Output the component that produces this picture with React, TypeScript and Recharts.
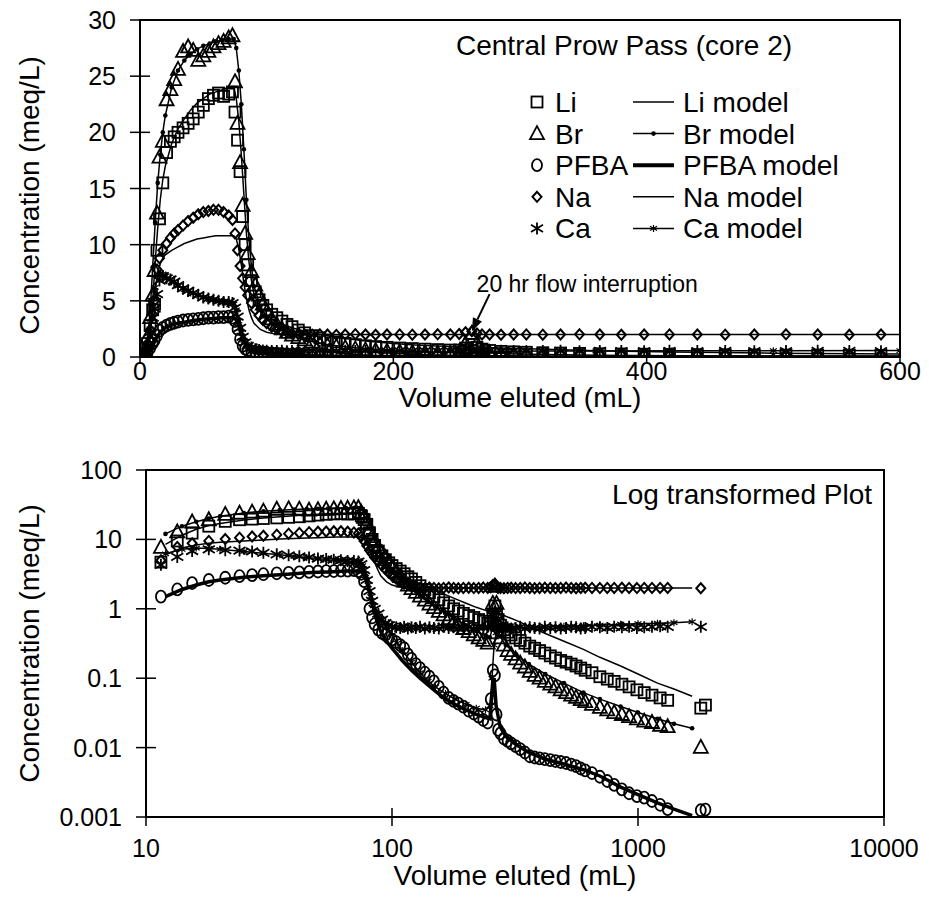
import React from 'react';
import { ScatterChart, Scatter, XAxis, YAxis, ReferenceArea, ReferenceLine, Legend } from 'recharts';

const FONT = '"Liberation Sans", Arial, Helvetica, sans-serif';

// measured effluent concentrations (meq/L) on a shared volume grid (mL)
const volume = [
  2, 4, 6, 8, 10, 11.5, 13.4, 15.4, 18, 21, 24, 27, 30, 34, 38, 42, 46, 50, 54, 58,
  62, 66, 70, 73, 75, 77, 79, 81, 83, 85, 88, 91, 94, 97, 100, 104, 108, 112, 116, 120,
  125, 130, 136, 142, 148, 155, 162, 170, 178, 186, 195, 205, 215, 225, 235, 245, 252, 257, 262, 266,
  270, 276, 285, 295, 305, 318, 332, 347, 363, 380, 398, 418, 440, 462, 485, 510, 535, 560, 585, 610,
  650, 700, 750, 800, 860, 920, 990, 1060, 1140, 1230, 1320, 1800, 1880,
];

const li = [
  0.05, 0.3, 1.2, 2.8, 4.2, 4.7, 9.5, 12.3, 15.5, 18.2, 19.2, 19.6, 20, 20.4, 20.8, 21.2, 21.8, 22.4, 23, 23.3,
  23.5, 23.2, 23.4, 23.6, 21.8, 19.3, 16.5, 12.5, 10, 8.2, 6.8, 5.8, 5.1, 4.6, 4.2, 3.8, 3.5, 3.2, 2.9, 2.7,
  2.4, 2.15, 1.9, 1.7, 1.5, 1.35, 1.22, 1.1, 1.0, 0.93, 0.86, 0.8, 0.75, 0.7, 0.66, 0.62, 0.62, 0.8, 1.1, 0.85,
  0.7, 0.58, 0.5, 0.46, 0.42, 0.38, 0.35, 0.32, 0.29, 0.27, 0.25, 0.23, 0.21, 0.195, 0.18, 0.17, 0.16, 0.15, 0.14, 0.13,
  0.12, 0.105, 0.097, 0.09, 0.082, 0.075, 0.068, 0.062, 0.057, 0.052, 0.048, 0.037, 0.041,
];

const br = [
  0.05, 0.5, 1.8, 3.5, 5.5, 7.7, 12.8, 17.8, 19.2, 22.9, 23.8, 24.7, 25.6, 27.2, 27.6, 27.3, 26.4, 26.8, 27.2, 27.6,
  27.9, 28.1, 28.4, 28.6, 24.5, 20.8, 17.3, 13.5, 11, 9.2, 7.6, 6.4, 5.5, 4.7, 4.0, 3.4, 2.9, 2.5, 2.2, 1.95,
  1.72, 1.52, 1.33, 1.17, 1.04, 0.92, 0.82, 0.72, 0.64, 0.58, 0.52, 0.47, 0.42, 0.38, 0.35, 0.32, 0.45, 1.2, 2.1, 1.2,
  0.6, 0.38, 0.3, 0.25, 0.22, 0.19, 0.165, 0.145, 0.125, 0.11, 0.1, 0.09, 0.082, 0.075, 0.068, 0.062, 0.057, 0.053, 0.049, 0.046,
  0.042, 0.038, 0.035, 0.032, 0.03, 0.028, 0.026, 0.024, 0.023, 0.021, 0.02, 0.0101, null,
];

const pfba = [
  0.02, 0.1, 0.4, 0.8, 1.2, 1.5, 1.9, 2.35, 2.6, 2.8, 2.95, 3.05, 3.15, 3.25, 3.3, 3.35, 3.4, 3.45, 3.5, 3.5,
  3.55, 3.55, 3.6, 3.5, 3.2, 2.5, 1.6, 1.0, 0.75, 0.6, 0.5, 0.45, 0.42, 0.38, 0.36, 0.33, 0.3, 0.27, 0.22, 0.19,
  0.16, 0.14, 0.12, 0.105, 0.09, 0.075, 0.062, 0.052, 0.047, 0.043, 0.039, 0.034, 0.031, 0.028, 0.025, 0.023, 0.05, 0.13, 0.11, 0.03,
  0.018, 0.016, 0.0135, 0.0125, 0.0115, 0.0105, 0.0095, 0.0085, 0.0075, 0.0072, 0.007, 0.0068, 0.0066, 0.0064, 0.0062, 0.006, 0.0057, 0.0054, 0.005, 0.0047,
  0.0043, 0.0038, 0.0033, 0.0029, 0.0025, 0.0022, 0.002, 0.0019, 0.0017, 0.0015, 0.0013, 0.00125, 0.00128,
];

const na = [
  0.1, 0.4, 1.2, 2.4, 3.8, 5, 7.8, 8.8, 9.5, 10.1, 10.6, 11, 11.3, 11.7, 12.1, 12.4, 12.7, 12.9, 13.0, 13.1,
  13.1, 12.9, 12.6, 12.2, 11, 9.5, 8.1, 7, 6.2, 5.5, 4.8, 4.2, 3.7, 3.3, 3.0, 2.7, 2.5, 2.3, 2.2, 2.1,
  2.05, 2.0, 1.98, 2.02, 2.0, 1.97, 2.0, 2.03, 2.0, 1.98, 2.0, 2.01, 1.99, 2.0, 2.02, 2.0, 2.05, 2.2, 2.3, 2.1,
  2.0, 2.0, 1.98, 2.0, 2.01, 1.99, 2.0, 2.02, 2.0, 1.98, 2.0, 2.01, 2.0, 1.99, 2.0, 2.02, 2.0, 1.98, 2.0, 2.01,
  2.0, 1.99, 2.0, 2.0, 2.01, 2.0, 1.99, 2.0, 2.0, 2.0, 2.0, 1.98, null,
];

const ca = [
  0.05, 0.3, 1.0, 2.2, 3.5, 4.3, 5.6, 6.8, 7.2, 7.0, 6.9, 6.7, 6.4, 6.1, 5.9, 5.7, 5.5, 5.3, 5.2, 5.1,
  5.0, 4.9, 4.9, 4.8, 4.4, 3.6, 2.6, 1.8, 1.3, 1.0, 0.85, 0.7, 0.62, 0.58, 0.55, 0.54, 0.53, 0.55, 0.52, 0.54,
  0.53, 0.55, 0.52, 0.54, 0.53, 0.52, 0.55, 0.53, 0.54, 0.52, 0.53, 0.55, 0.52, 0.54, 0.53, 0.55, 0.6, 0.8, 0.9, 0.7,
  0.58, 0.55, 0.53, 0.54, 0.52, 0.53, 0.55, 0.52, 0.54, 0.53, 0.52, 0.55, 0.53, 0.54, 0.52, 0.53, 0.55, 0.54, 0.52, 0.53,
  0.55, 0.54, 0.53, 0.55, 0.54, 0.55, 0.53, 0.54, 0.55, 0.56, 0.55, 0.55, null,
];

// transport model curves
const modelVolume = [
  5, 8, 10, 12, 14, 16, 18, 20, 25, 30, 35, 40, 45, 50, 55, 60, 65, 70, 74, 76,
  78, 80, 82, 84, 86, 88, 90, 95, 100, 105, 110, 120, 130, 140, 150, 165, 180, 200, 220, 240,
  250, 255, 260, 265, 275, 290, 320, 360, 420, 500, 600, 700, 850, 1000, 1200, 1400, 1660,
];

const liModel = [
  0.3, 2.5, 5, 8.5, 11.5, 14, 15.8, 17, 19, 20.3, 21.2, 22, 22.6, 23, 23.4, 23.6, 23.8, 24, 24.1, 23,
  21, 18, 14.5, 11, 8.5, 6.8, 5.6, 4.3, 3.7, 3.3, 3.0, 2.6, 2.3, 2.05, 1.85, 1.6, 1.4, 1.2, 1.05, 0.95,
  0.9, 1.0, 1.3, 1.0, 0.85, 0.78, 0.68, 0.56, 0.44, 0.34, 0.26, 0.2, 0.15, 0.115, 0.085, 0.07, 0.055,
];

const brModel = [
  0.8, 4, 8, 12, 15.5, 18, 20, 21.5, 24, 25.5, 26.4, 27, 27.4, 27.7, 27.9, 28.1, 28.2, 28.3, 28.3, 27.5,
  25.5, 22.5, 18.5, 14, 10.5, 8, 6.3, 4.5, 3.5, 2.9, 2.45, 1.9, 1.52, 1.26, 1.06, 0.86, 0.71, 0.58, 0.48, 0.41,
  0.39, 0.5, 0.9, 0.6, 0.4, 0.3, 0.22, 0.16, 0.115, 0.085, 0.062, 0.05, 0.039, 0.032, 0.026, 0.022, 0.019,
];

const pfbaModel = [
  0.1, 0.5, 1.0, 1.5, 1.9, 2.2, 2.45, 2.6, 2.85, 3.0, 3.1, 3.2, 3.3, 3.35, 3.4, 3.45, 3.5, 3.5, 3.5, 3.3,
  2.8, 2.1, 1.5, 1.05, 0.75, 0.58, 0.47, 0.34, 0.27, 0.22, 0.18, 0.13, 0.1, 0.08, 0.065, 0.05, 0.042, 0.035, 0.03, 0.027,
  0.026, 0.06, 0.1, 0.04, 0.02, 0.0145, 0.011, 0.0085, 0.0068, 0.0058, 0.0048, 0.0039, 0.0027, 0.0021, 0.0016, 0.0013, 0.00105,
];

const naModel = [
  0.3, 2, 4, 6, 7.5, 8.3, 8.8, 9.1, 9.5, 9.8, 10.1, 10.3, 10.5, 10.6, 10.7, 10.8, 10.8, 10.8, 10.8, 10.5,
  9.6, 8.2, 6.6, 5.2, 4.2, 3.5, 3.0, 2.45, 2.2, 2.1, 2.05, 2.0, 2.0, 2.0, 2.0, 2.0, 2.0, 2.0, 2.0, 2.0,
  2.0, 2.0, 2.0, 2.0, 2.0, 2.0, 2.0, 2.0, 2.0, 2.0, 2.0, 2.0, 2.0, 2.0, 2.0, 2.0, 2.0,
];

const caModel = [
  0.5, 2.5, 4.5, 6.2, 7.2, 7.5, 7.4, 7.2, 6.7, 6.3, 6.0, 5.7, 5.5, 5.3, 5.1, 5.0, 4.9, 4.8, 4.7, 4.2,
  3.2, 2.2, 1.5, 1.1, 0.9, 0.78, 0.7, 0.55, 0.42, 0.32, 0.25, 0.17, 0.12, 0.09, 0.075, 0.06, 0.05, 0.042, 0.037, 0.035,
  0.04, 0.1, 0.3, 0.45, 0.5, 0.52, 0.53, 0.54, 0.55, 0.56, 0.57, 0.58, 0.6, 0.61, 0.62, 0.63, 0.65,
];

const seriesNames = ['Li', 'Br', 'PFBA', 'Na', 'Ca'];

const topXTicks = [0, 200, 400, 600];
const topYTicks = [0, 5, 10, 15, 20, 25, 30];
const logXTicks = [10, 100, 1000, 10000];
const logYTicks = [0.001, 0.01, 0.1, 1, 10, 100];

type Pt = { x: number; y: number };

const pairs = (xs: number[], ys: (number | null)[]): Pt[] =>
  xs.map((x, i) => ({ x, y: ys[i] as number })).filter((p) => p.y != null);
const linPts = (xs: number[], ys: (number | null)[]) => pairs(xs, ys).filter((p) => p.x <= 600);
const logPts = (xs: number[], ys: (number | null)[]) => pairs(xs, ys).filter((p) => p.x >= 11 && p.y > 0);

const SW = 1.8;

// marker glyphs
const SquareMark = ({ cx, cy }: any) => (
  <rect x={cx - 5.5} y={cy - 5.5} width={11} height={11} fill="none" stroke="#000" strokeWidth={SW} />
);
const TriangleMark = ({ cx, cy }: any) => (
  <path d={`M${cx},${cy - 7.5} L${cx + 7},${cy + 5.5} L${cx - 7},${cy + 5.5} Z`} fill="none" stroke="#000" strokeWidth={SW} />
);
const RingMark = ({ cx, cy }: any) => (
  <ellipse cx={cx} cy={cy} rx={5} ry={6} fill="none" stroke="#000" strokeWidth={SW} />
);
const DiamondMark = ({ cx, cy }: any) => (
  <path d={`M${cx},${cy - 5} L${cx + 4.5},${cy} L${cx},${cy + 5} L${cx - 4.5},${cy} Z`} fill="none" stroke="#000" strokeWidth={2} />
);
const StarMark = ({ cx, cy, r = 6, w = SW }: any) => (
  <path
    d={`M${cx},${cy - r} V${cy + r} M${cx - r},${cy - r * 0.6} L${cx + r},${cy + r * 0.6} M${cx - r},${cy + r * 0.6} L${cx + r},${cy - r * 0.6}`}
    stroke="#000"
    strokeWidth={w}
    fill="none"
  />
);
const DotMark = ({ cx, cy }: any) => <circle cx={cx} cy={cy} r={2.3} fill="#000" />;
const SmallStar = ({ cx, cy }: any) => <StarMark cx={cx} cy={cy} r={3.5} w={1.2} />;
const NoMark = () => <g />;

const dataMarks = [SquareMark, TriangleMark, RingMark, DiamondMark, StarMark];

const XTick = (props: any) => {
  const { x, y, payload, tickLen = 9, labelDy = 40 } = props;
  return (
    <g>
      <line x1={x} x2={x} y1={y - tickLen} y2={y + tickLen} stroke="#000" strokeWidth={1.5} />
      <text x={x} y={y + labelDy} textAnchor="middle" fontFamily={FONT} fontSize={25} fill="#000">
        {payload.value}
      </text>
    </g>
  );
};

const YTick = (props: any) => {
  const { x, y, payload } = props;
  return (
    <g>
      <line x1={x - 10} x2={x + 10} y1={y} y2={y} stroke="#000" strokeWidth={1.5} />
      <text x={x - 24} y={y + 9} textAnchor="end" fontFamily={FONT} fontSize={25} fill="#000">
        {String(payload.value)}
      </text>
    </g>
  );
};

const XTitle = (props: any) => {
  const vb = props.viewBox || {};
  return (
    <text x={vb.x + vb.width / 2} y={vb.y + (props.dy || 68)} textAnchor="middle" fontFamily={FONT} fontSize={28} fill="#000">
      Volume eluted (mL)
    </text>
  );
};

const YTitle = (props: any) => {
  const vb = props.viewBox || {};
  const cx = 29;
  const cy = vb.y + vb.height / 2 + (props.shift || 0);
  return (
    <text
      x={cx}
      y={cy}
      transform={`rotate(-90, ${cx}, ${cy})`}
      textAnchor="middle"
      dominantBaseline="central"
      fontFamily={FONT}
      fontSize={28}
      fill="#000"
    >
      Concentration (meq/L)
    </text>
  );
};

const FlowArrow = (props: any) => {
  const { x1, y1, x2, y2 } = props;
  const ang = Math.atan2(y2 - y1, x2 - x1);
  const len = 13;
  const hw = 5;
  const bx = x2 - len * Math.cos(ang);
  const by = y2 - len * Math.sin(ang);
  const px = -Math.sin(ang) * hw;
  const py = Math.cos(ang) * hw;
  return (
    <g>
      <line x1={x1} y1={y1} x2={bx} y2={by} stroke="#000" strokeWidth={2} />
      <path d={`M${x2},${y2} L${bx + px},${by + py} L${bx - px},${by - py} Z`} fill="#000" />
      <text x={x1 - 13} y={y1 - 2} fontFamily={FONT} fontSize={23} fill="#000">
        20 hr flow interruption
      </text>
    </g>
  );
};

const TopLegend = () => (
  <svg width={470} height={240} style={{ overflow: 'visible' }}>
    <text x={16} y={35} fontFamily={FONT} fontSize={28} fill="#000">
      Central Prow Pass (core 2)
    </text>
    {seriesNames.map((name, i) => {
      const cy = 82 + i * 31.6;
      const Mark = dataMarks[i];
      return (
        <g key={name}>
          <Mark cx={97} cy={cy} />
          <text x={115} y={cy + 10} fontFamily={FONT} fontSize={28} fill="#000">
            {name}
          </text>
          <line x1={193} x2={234} y1={cy} y2={cy} stroke="#000" strokeWidth={i === 2 ? 4 : 1.5} />
          {i === 1 && <DotMark cx={213.5} cy={cy} />}
          {i === 4 && <SmallStar cx={213.5} cy={cy} />}
          <text x={243} y={cy + 10} fontFamily={FONT} fontSize={28} fill="#000">
            {name} model
          </text>
        </g>
      );
    })}
  </svg>
);

const LogLegend = () => (
  <svg width={330} height={50} style={{ overflow: 'visible' }}>
    <text x={312} y={34} textAnchor="end" fontFamily={FONT} fontSize={28} fill="#000">
      Log transformed Plot
    </text>
  </svg>
);

function renderSeries(pick: (xs: number[], ys: (number | null)[]) => Pt[]) {
  const data = [li, br, pfba, na, ca];
  const models = [liModel, brModel, pfbaModel, naModel, caModel];
  const modelMarks = [NoMark, DotMark, NoMark, NoMark, SmallStar];
  const out: React.ReactNode[] = [];
  models.forEach((m, i) => {
    const Mk = modelMarks[i];
    out.push(
      <Scatter
        key={`m-${i}`}
        name={`${seriesNames[i]} model`}
        data={pick(modelVolume, m)}
        line={{ stroke: '#000', strokeWidth: i === 2 ? 3.5 : 1.5 }}
        lineType="joint"
        shape={(p: any) => <Mk cx={p.cx} cy={p.cy} />}
        isAnimationActive={false}
      />
    );
  });
  data.forEach((d, i) => {
    const Mk = dataMarks[i];
    out.push(
      <Scatter
        key={`d-${i}`}
        name={seriesNames[i]}
        data={pick(volume, d)}
        shape={(p: any) => <Mk cx={p.cx} cy={p.cy} />}
        isAnimationActive={false}
      />
    );
  });
  return out;
}

const axisLine = { stroke: '#000', strokeWidth: 2 };

export default function App() {
  return (
    <div style={{ position: 'absolute', left: 0, top: 0, width: 929, height: 899, background: '#fff' }}>
      <div style={{ position: 'absolute', left: 0, top: 0 }}>
        <ScatterChart width={929} height={440} margin={{ top: 20, right: 29, bottom: 0, left: 0 }}>
          <XAxis
            type="number"
            dataKey="x"
            domain={[0, 600]}
            ticks={topXTicks}
            interval={0}
            allowDataOverflow
            height={83}
            tickSize={0}
            tickMargin={0}
            tickLine={false}
            tick={(p: any) => <XTick {...p} tickLen={6} labelDy={23} />}
            axisLine={axisLine}
            label={(p: any) => <XTitle {...p} dy={50} />}
          />
          <YAxis
            type="number"
            dataKey="y"
            domain={[0, 30]}
            ticks={topYTicks}
            interval={0}
            allowDataOverflow
            width={140}
            tickSize={0}
            tickMargin={0}
            tickLine={false}
            tick={(p: any) => <YTick {...p} />}
            axisLine={axisLine}
            label={(p: any) => <YTitle {...p} shift={7} />}
          />
          <ReferenceArea x1={0} x2={600} y1={0} y2={30} fill="none" stroke="#000" strokeWidth={2} />
          {renderSeries(linPts)}
          <ReferenceLine
            segment={[
              { x: 276, y: 5.6 },
              { x: 262, y: 2.3 },
            ]}
            shape={(p: any) => <FlowArrow {...p} />}
          />
          <Legend
            content={() => <TopLegend />}
            layout="vertical"
            align="center"
            verticalAlign="middle"
            wrapperStyle={{ left: 440, top: 20, width: 470, height: 240 }}
          />
        </ScatterChart>
      </div>
      <div style={{ position: 'absolute', left: 0, top: 440 }}>
        <ScatterChart width={929} height={459} margin={{ top: 30, right: 45, bottom: 0, left: 0 }}>
          <XAxis
            type="number"
            dataKey="x"
            scale="log"
            domain={[10, 10000]}
            ticks={logXTicks}
            interval={0}
            allowDataOverflow
            height={82}
            tickSize={0}
            tickMargin={0}
            tickLine={false}
            tick={(p: any) => <XTick {...p} />}
            axisLine={axisLine}
            label={(p: any) => <XTitle {...p} dy={68} />}
          />
          <YAxis
            type="number"
            dataKey="y"
            scale="log"
            domain={[0.001, 100]}
            ticks={logYTicks}
            interval={0}
            allowDataOverflow
            width={146}
            tickSize={0}
            tickMargin={0}
            tickLine={false}
            tick={(p: any) => <YTick {...p} />}
            axisLine={axisLine}
            label={(p: any) => <YTitle {...p} shift={0} />}
          />
          <ReferenceArea x1={10} x2={10000} y1={0.001} y2={100} fill="none" stroke="#000" strokeWidth={2} />
          {renderSeries(logPts)}
          <Legend
            content={() => <LogLegend />}
            layout="vertical"
            align="center"
            verticalAlign="middle"
            wrapperStyle={{ left: 560, top: 30, width: 330, height: 50 }}
          />
        </ScatterChart>
      </div>
    </div>
  );
}
